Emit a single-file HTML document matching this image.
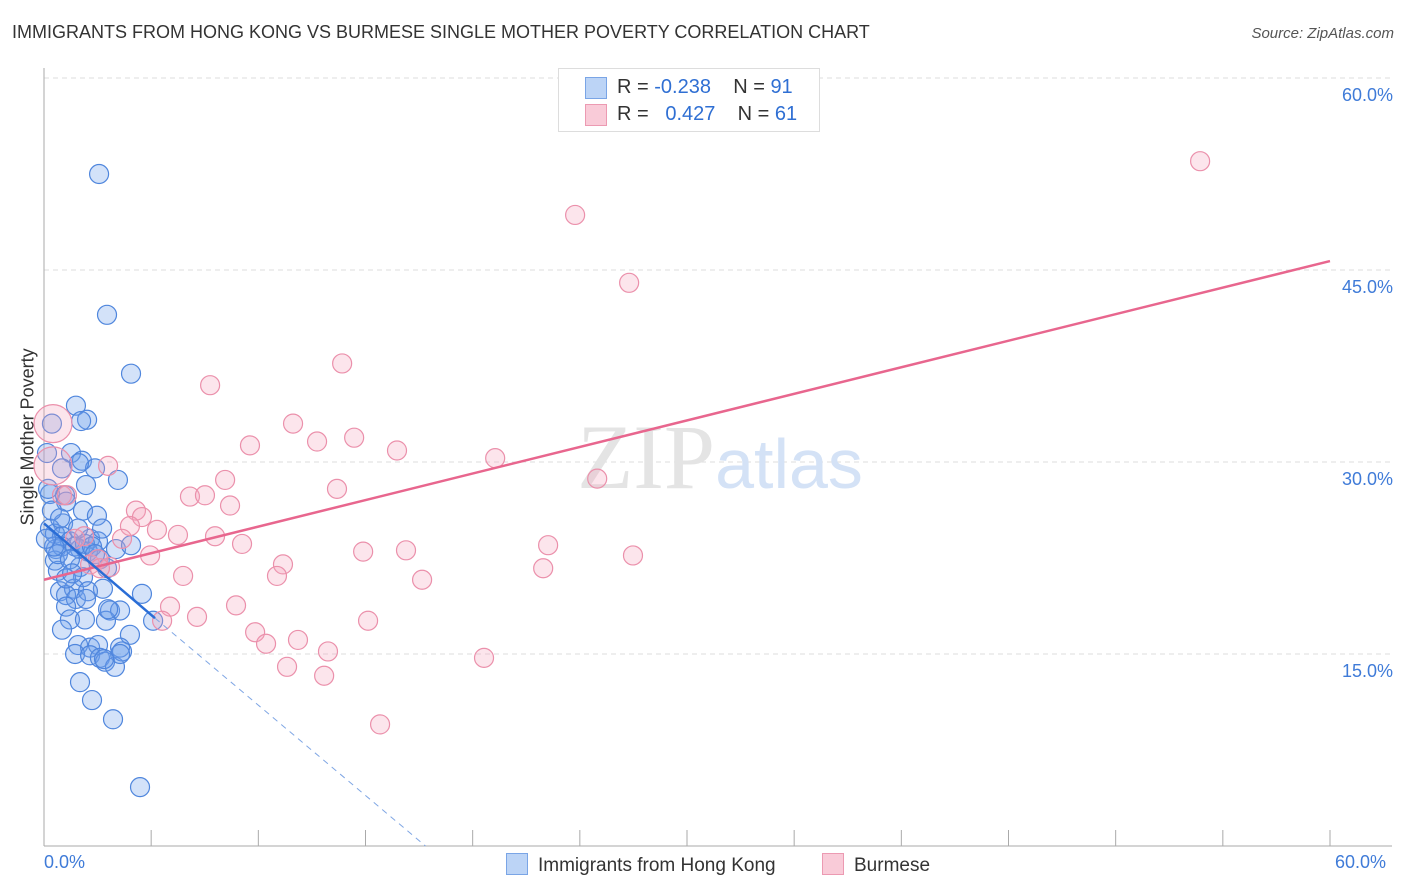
<!DOCTYPE html>
<html><head><meta charset="utf-8"><style>
body{margin:0;background:#fff;font-family:"Liberation Sans",sans-serif;}
#w{position:relative;width:1406px;height:892px;overflow:hidden}
.t{position:absolute;white-space:nowrap}
</style></head><body>
<div id="w">
<div class="t" style="left:12px;top:22px;font-size:18px;color:#333">IMMIGRANTS FROM HONG KONG VS BURMESE SINGLE MOTHER POVERTY CORRELATION CHART</div>
<div class="t" style="right:12px;top:25px;font-size:15px;color:#555;font-style:italic">Source: ZipAtlas.com</div>
<svg id="s" width="1406" height="892" style="position:absolute;left:0;top:0"></svg>
</div>
<script>
const yTicks=[15,30,45,60];
const yTickLabels=["15.0%","30.0%","45.0%","60.0%"];
const blueX=[2.57,2.94,4.06,1.49,2.01,1.73,0.37,1.26,1.77,2.38,1.63,0.84,1.96,3.45,0.28,0.98,1.03,1.82,2.47,0.89,0.28,0.51,0.84,2.15,2.52,3.36,4.06,1.21,1.68,0.56,0.84,2.05,1.45,2.61,0.51,0.65,1.68,2.94,1.82,0.75,1.40,1.03,1.49,2.75,4.57,1.03,3.08,3.55,1.21,1.91,2.89,5.09,0.84,4.01,1.59,2.15,2.52,3.55,1.45,2.15,2.61,2.85,3.31,3.64,1.68,2.24,3.22,4.48,0.14,0.19,0.37,0.65,1.21,2.71,1.91,0.75,0.47,1.59,2.24,1.03,2.05,3.55,2.80,0.09,2.38,1.31,2.99,1.96];
const blueY=[52.5,41.5,36.9,34.4,33.3,33.2,33.0,30.7,30.1,29.5,29.9,29.5,28.2,28.6,27.5,27.4,26.9,26.2,25.8,25.2,24.8,24.4,24.2,24.0,23.8,23.2,23.5,23.8,23.2,23.2,23.4,23.0,23.4,22.4,22.3,21.5,21.8,21.7,21.0,19.9,20.1,19.6,19.3,20.1,19.7,18.7,18.4,18.4,17.7,17.7,17.6,17.6,16.9,16.5,15.7,15.5,15.7,15.5,15.0,14.9,14.7,14.4,14.0,15.2,12.8,11.4,9.9,4.6,30.7,27.9,26.2,22.8,22.4,24.8,23.6,25.6,23.4,24.8,23.4,20.9,19.9,15.0,14.6,24.0,22.8,21.3,18.5,19.3];
const pinkX=[24.59,53.94,24.78,27.30,13.91,7.75,11.62,9.61,12.74,14.47,16.47,21.05,2.99,8.45,25.81,13.67,6.81,7.51,8.68,4.29,4.57,4.01,5.27,6.25,7.98,9.24,3.64,4.95,1.45,23.52,14.89,16.89,11.15,27.48,23.29,3.08,2.15,2.52,6.49,10.87,17.64,5.88,7.14,8.96,15.12,9.85,11.85,10.36,13.25,11.34,13.07,20.53,15.68,5.51,0.42,0.42,0.84,1.07,2.61,1.87];
const pinkY=[57.2,53.5,49.3,44.0,37.7,36.0,33.0,31.3,31.6,31.9,30.9,30.3,29.7,28.6,28.7,27.9,27.3,27.4,26.6,26.2,25.7,25.0,24.7,24.3,24.2,23.6,24.0,22.7,24.0,23.5,23.0,23.1,22.0,22.7,21.7,21.8,22.0,22.4,21.1,21.1,20.8,18.7,17.9,18.8,17.6,16.7,16.1,15.8,15.2,14.0,13.3,14.7,9.5,17.6,33.0,29.7,27.4,27.4,21.7,24.2];
const pinkBig=[0,0,0,0,0,0,0,0,0,0,0,0,0,0,0,0,0,0,0,0,0,0,0,0,0,0,0,0,0,0,0,0,0,0,0,0,0,0,0,0,0,0,0,0,0,0,0,0,0,0,0,0,0,0,1,1,0,0,0,0];
const blueTrend=[25.2,17.8];const blueTrendX=[0,5.18,17.8];
const pinkTrend=[20.8,45.7];
const xS=v=>44+v*(1286/60), yS=v=>846-v*12.8;
const s=document.getElementById('s');const NS='http://www.w3.org/2000/svg';
function mk(t,a,p){const e=document.createElementNS(NS,t);for(const k in a)e.setAttribute(k,a[k]);(p||s).appendChild(e);return e;}
yTicks.forEach((v,i)=>{const g=mk('line',{x1:44,x2:1392,y1:yS(v),y2:yS(v),stroke:'#ddd','stroke-dasharray':'5,4'});


const t=mk('text',{x:1393,y:yS(v)+23,'text-anchor':'end','font-size':18,fill:'#3f7bd8'});t.textContent=yTickLabels[i];

});
const ax=mk('line',{x1:44,x2:44,y1:68,y2:846,stroke:'#aaa'});
const bx=mk('line',{x1:44,x2:1392,y1:846,y2:846,stroke:'#aaa'});
for(let i=0;i<=60;i+=5){const l=mk('line',{x1:xS(i),x2:xS(i),y1:830,y2:846,stroke:'#aaa'});}
const wm=mk('text',{x:720,y:488,'text-anchor':'middle','font-size':92,fill:'#e4e4e4','font-family':'Liberation Serif'});wm.textContent='ZIP';

const tsp=mk('tspan',{fill:'#d4e2f6','font-family':'Liberation Sans','font-size':70},wm);tsp.textContent='atlas';
blueX.forEach((x,i)=>{const c=mk('circle',{cx:xS(x),cy:yS(blueY[i]),r:9.5,fill:'rgba(110,160,235,0.3)',stroke:'#4f86dd','stroke-width':1.2});

});
pinkX.forEach((x,i)=>{const c=mk('circle',{cx:xS(x),cy:yS(pinkY[i]),r:pinkBig[i]?19:9.5,fill:'rgba(245,160,185,0.28)',stroke:'#eb90ab','stroke-width':1.2});

});
const pl=mk('line',{x1:xS(0),y1:yS(pinkTrend[0]),x2:xS(60),y2:yS(pinkTrend[1]),stroke:'#e8668e','stroke-width':2.5});

const bl=mk('line',{x1:xS(blueTrendX[0]),y1:yS(blueTrend[0]),x2:xS(blueTrendX[1]),y2:yS(blueTrend[1]),stroke:'#2a6dd6','stroke-width':2.5});

const bd=mk('line',{x1:xS(blueTrendX[1]),y1:yS(blueTrend[1]),x2:xS(blueTrendX[2]),y2:yS(0),stroke:'#7fa6e4','stroke-width':1,'stroke-dasharray':'6,5'});

</script>
<div class="t" style="left:-42px;top:445px;transform:rotate(-90deg);font-size:18px;color:#333;width:140px;text-align:center">Single Mother Poverty</div>
<div class="t" style="left:44px;top:852px;font-size:18px;color:#3f7bd8">0.0%</div>
<div class="t" style="left:1335px;top:852px;font-size:18px;color:#3f7bd8">60.0%</div>
<div style="position:absolute;left:558px;top:68px;width:260px;height:62px;border:1px solid #ddd;background:#fff;font-size:20px;color:#333">
<div style="position:absolute;left:26px;top:8px;width:20px;height:20px;background:#bcd4f6;border:1px solid #7aa5e6"></div>
<div class="t" style="left:58px;top:7px">R = <span style="color:#2f6fd3">-0.238</span>&nbsp;&nbsp;&nbsp; N = <span style="color:#2f6fd3">91</span></div>
<div style="position:absolute;left:26px;top:35px;width:20px;height:20px;background:#f9cbd8;border:1px solid #ec9ab2"></div>
<div class="t" style="left:58px;top:34px">R = &nbsp;<span style="color:#2f6fd3">&nbsp;0.427</span>&nbsp;&nbsp;&nbsp; N = <span style="color:#2f6fd3">61</span></div>
</div>
<div class="t" style="left:506px;top:853px;font-size:19px;color:#333"><span style="display:inline-block;width:20px;height:20px;background:#bcd4f6;border:1px solid #7aa5e6;vertical-align:-4px;margin-right:10px"></span>Immigrants from Hong Kong</div>
<div class="t" style="left:822px;top:853px;font-size:19px;color:#333"><span style="display:inline-block;width:20px;height:20px;background:#f9cbd8;border:1px solid #ec9ab2;vertical-align:-4px;margin-right:10px"></span>Burmese</div>
</body></html>
